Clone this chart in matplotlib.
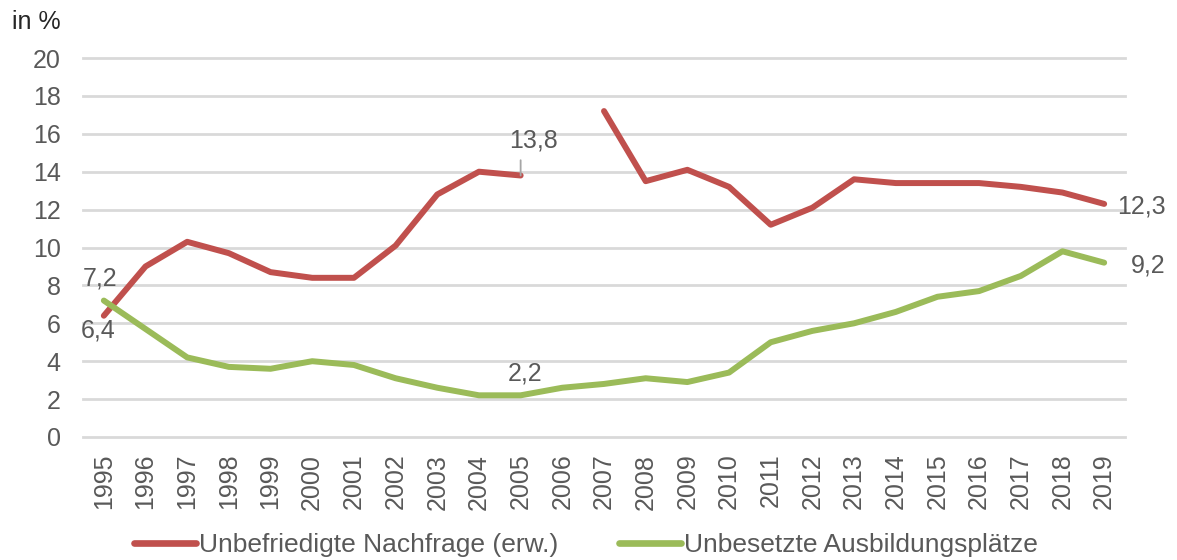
import numpy as np
import matplotlib

matplotlib.use("Agg")
import matplotlib.pyplot as plt

# years on the category axis (2006 has no value for the red series)
years = [str(y) for y in range(1995, 2020)]

# Unbefriedigte Nachfrage (erw.), in %
nachfrage = [6.4, 9.0, 10.3, 9.7, 8.7, 8.4, 8.4, 10.1, 12.8, 14.0, 13.8,
             np.nan, 17.2, 13.5, 14.1, 13.2, 11.2, 12.1, 13.6, 13.4, 13.4,
             13.4, 13.2, 12.9, 12.3]

# Unbesetzte Ausbildungsplätze, in %
unbesetzt = [7.2, 5.7, 4.2, 3.7, 3.6, 4.0, 3.8, 3.1, 2.6, 2.2, 2.2,
             2.6, 2.8, 3.1, 2.9, 3.4, 5.0, 5.6, 6.0, 6.6, 7.4,
             7.7, 8.5, 9.8, 9.2]

RED = "#C0504D"
GREEN = "#9BBB59"
TEXT = "#595959"

plt.rcParams["font.family"] = ["Liberation Sans", "DejaVu Sans"]

fig = plt.figure(figsize=(11.77, 5.6), dpi=100)
ax = fig.add_axes([83 / 1177, 1 - 437 / 560, (1125 - 83) / 1177, (437 - 58) / 560])

x = np.arange(len(years))
ax.plot(x, nachfrage, color=RED, lw=4.3, solid_capstyle="round",
        solid_joinstyle="round", label="Unbefriedigte Nachfrage (erw.)", zorder=3)
ax.plot(x, unbesetzt, color=GREEN, lw=4.3, solid_capstyle="round",
        solid_joinstyle="round", label="Unbesetzte Ausbildungsplätze", zorder=3)

ax.set_xlim(-0.5, len(years) - 0.5)
ax.set_ylim(0, 20)
ax.set_yticks(range(0, 21, 2))
ax.set_xticks(x)
ax.set_xticklabels(years, rotation=90)
ax.grid(axis="y", color="#D9D9D9", lw=2)
ax.set_axisbelow(True)
for line in ax.get_ygridlines():
    line.set_clip_on(False)
for s in ax.spines.values():
    s.set_visible(False)
ax.tick_params(axis="both", length=0, labelsize=18, colors=TEXT)
ax.tick_params(axis="y", pad=16)
ax.tick_params(axis="x", pad=12)

# data labels
lbl = dict(fontsize=18, color=TEXT, textcoords="offset points")
ax.annotate("7,2", (0, unbesetzt[0]), xytext=(-3, 16), ha="center", va="center", **lbl)
ax.annotate("6,4", (0, nachfrage[0]), xytext=(-4, -11), ha="center", va="center", **lbl)
ax.annotate("13,8", (10, nachfrage[10]), xytext=(9, 25), ha="center", va="center", **lbl)
# leader line of the 13,8 label
ax.annotate("", (10, nachfrage[10]), xytext=(0, 11), textcoords="offset points",
            arrowprops=dict(arrowstyle="-", color="#A6A6A6", lw=1.3,
                            shrinkA=0, shrinkB=0))
ax.annotate("2,2", (10, unbesetzt[10]), xytext=(3, 16), ha="center", va="center", **lbl)
ax.annotate("12,3", (24, nachfrage[24]), xytext=(9, -2), ha="left", va="center", **lbl)
ax.annotate("9,2", (24, unbesetzt[24]), xytext=(19, -2), ha="left", va="center", **lbl)

fig.text(12 / 1177, 1 - 22 / 560, "in %", fontsize=18, color="#262626",
         ha="left", va="center")

leg = fig.legend(loc="center", bbox_to_anchor=(586 / 1177, 1 - 545 / 560), ncol=2,
                 frameon=False, fontsize=19, handlelength=2.35, handletextpad=0.1,
                 columnspacing=2.3, labelcolor=TEXT)
for h in leg.legend_handles:
    h.set_linewidth(4.8)

fig.savefig("out.png", dpi=100)
